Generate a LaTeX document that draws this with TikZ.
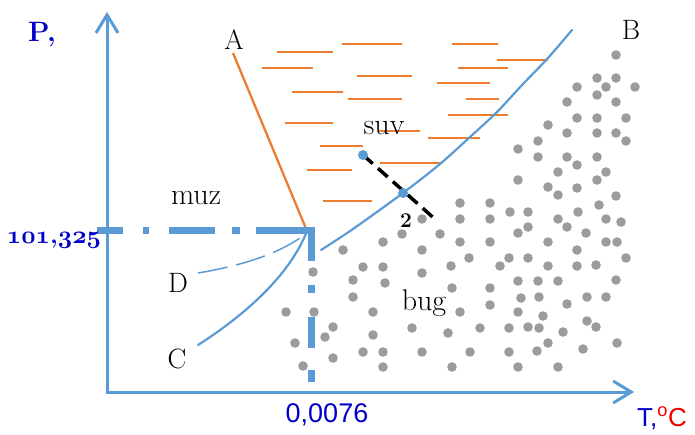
\documentclass[tikz,border=0pt]{standalone}
\usepackage{fix-cm}
\usepackage{fontspec}
\newfontfamily\sansfont{Liberation Sans}
\usetikzlibrary{arrows.meta}
\definecolor{axblue}{HTML}{5B9BD5}
\definecolor{liqorange}{HTML}{ED7D31}
\definecolor{dotgray}{HTML}{9C9C9C}
\definecolor{txtblue}{HTML}{0000C8}
\definecolor{txtred}{HTML}{F00000}
\newcommand{\oldbold}[1]{{\fontencoding{OML}\fontfamily{cmm}\fontseries{b}\fontshape{it}\selectfont #1}}

\begin{document}
\begin{tikzpicture}[x=1pt,y=-1pt,
  lbl/.style={font=\fontsize{28}{30}\selectfont,anchor=base,inner sep=0pt},
  phase/.style={font=\fontsize{30}{32}\selectfont,anchor=base,inner sep=0pt},
  axis/.style={axblue,line width=3pt,{Straight Barb[length=18pt,width=22pt]}-{Straight Barb[length=18pt,width=22pt]}},
  guide/.style={axblue,line width=7pt},
  curve/.style={axblue,line width=2.2pt,line cap=round}]
  \useasboundingbox (0,0) rectangle (695,435);
  % solid phase
  \foreach \x/\y in {616/55,597/78,616/78,606/87,577/87,635/87,597/95,567/102,616/102,
    577/118,597/118,626/118,548/125,567/133,597/133,616/133,538/141,626/141,518/149,
    538/157,567/157,597/157,577/165,558/172,606/172,518/180,597/180,548/187,577/188,
    558/195,616/196,599/205,460/203,490/203,510/212,528/212,578/212,460/219,490/219,
    558/219,606/219,621/222,422/219,567/227,528/227,402/234,440/234,518/233,586/233,
    343/250,422/250,577/250,383/242,460/242,490/242,548/242,606/242,617/242,
    363/267,383/267,451/266,500/266,548/266,577/266,596/265,469/258,509/258,528/258,
    626/258,422/273,313/272,353/280,385/283,518/281,538/281,558/281,616/280,452/288,
    490/288,353/297,521/298,539/297,587/297,606/297,567/304,490/305,286/312,314/312,
    373/312,460/312,518/312,543/316,587/321,333/327,412/328,480/328,509/328,528/327,
    539/328,596/327,325/337,373/335,448/333,563/332,295/343,548/343,617/343,363/352,
    383/352,422/352,470/352,509/352,537/351,583/349,333/358,303/366,383/367,452/367,
    518/367,558/367}{\fill[dotgray] (\x,\y) circle (4.8pt);}
  % liquid phase
  \foreach \a/\b/\y in {342/402/44,452/498/44,277/333/52,497/548/60,262/313/68,458/508/68,
    357/412/76,437/490/83,292/343/92,348/402/99,466/499/99,448/508/115,285/333/123,
    378/420/131,428/480/138,320/363/146,380/440/163,307/352/170,323/372/201}
    {\draw[liqorange,line width=2.8pt] (\a,\y) -- (\b,\y);}
  % axes
  \coordinate (O) at (107,392);
  \coordinate (ytop) at (107,12);
  \coordinate (xend) at (634,392);
  \draw[axis] (ytop) -- (O) -- (xend);
  % triple point and lines
  \coordinate (tp) at (307,231);
  \coordinate (aend) at (233,53);
  \coordinate (py) at (97,231);
  \coordinate (tx) at (311.5,227.5);
  \coordinate (txb) at (311.5,382);
  \coordinate (cend) at (198,345);
  \coordinate (dend) at (198,273);
  \draw[liqorange,line width=2.3pt] (aend) -- (tp);
  \draw[curve] plot[smooth] coordinates {(321,250) (353,229) (403,193) (440,164) (470,137)
    (497,112) (523,84) (548,58) (572,30)};
  \draw[curve] (cend) .. controls (245,315) and (290,275) .. (tp);
  \draw[axblue,line width=1.5pt,dash pattern=on 30pt off 9pt] (dend) .. controls (240,266) and (275,255) .. (300,238);
  \draw[guide,dash pattern=on 26pt off 20pt on 6pt off 20pt on 46pt off 17pt on 8pt off 16pt on 80pt]
    (py) -- (315,231);
  \draw[guide,dash pattern=on 34pt off 23pt on 8pt off 24pt on 31pt off 22pt on 12pt] (tx) -- (txb);
  % process line
  \coordinate (p1) at (363,155);
  \coordinate (p2) at (403,193);
  \coordinate (p3) at (436,220);
  \draw[black,line width=3.5pt,dash pattern=on 13pt off 7pt] (p1) -- (p3);
  \fill[axblue] (p1) circle (5pt) (p2) circle (5pt);
  % labels
  \node[lbl] (labA) at (234,50) {A};
  \node[lbl] (labB) at (631,40) {B};
  \node[lbl] (labC) at (177,368) {C};
  \node[lbl] (labD) at (178,292) {D};
  \node[phase] (muz) at (196,205) {muz};
  \node[phase] (suv) at (384,135) {suv};
  \node[phase] (bug) at (424,310) {bug};
  \node[font=\fontsize{21}{22}\selectfont\bfseries,anchor=base,inner sep=0pt] (two) at (406,228) {2};
  \node[font=\fontsize{28}{30}\selectfont\bfseries,text=txtblue,anchor=base,inner sep=0pt] (pax) at (42,42) {P,};
  \node[font=\fontsize{25}{26}\selectfont\bfseries,text=txtblue,anchor=base,inner sep=0pt] (pval) at (54,244)
    {\oldbold{101},\oldbold{325}};
  \node[font=\fontsize{27}{30}\sansfont,text=txtblue,anchor=base,inner sep=0pt] (tval) at (327,422) {0,0076};
  \node[font=\fontsize{26}{28}\sansfont,anchor=base west,inner sep=0pt] (tax) at (637,426)
    {\textcolor{txtblue}{T,}\textcolor{txtred}{\textsuperscript{o}C}};
\end{tikzpicture}
\end{document}
